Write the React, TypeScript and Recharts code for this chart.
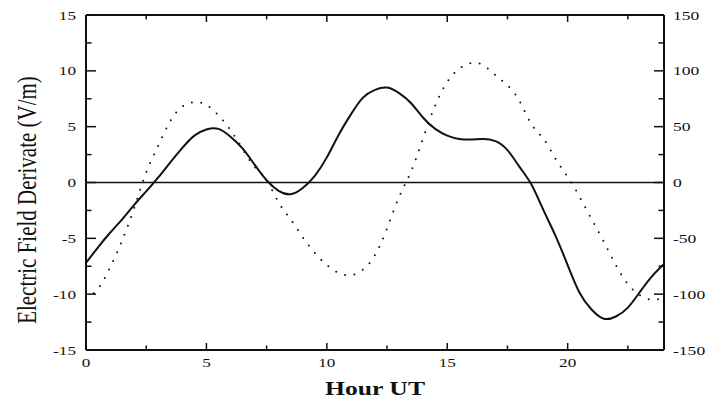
import React from 'react';
import { LineChart, Line, XAxis, YAxis, ReferenceLine } from 'recharts';

// hours (UT), half-hour steps
const hours = [
  0, 0.5, 1, 1.5, 2, 2.5, 3, 3.5, 4, 4.5, 5, 5.5, 6, 6.5, 7, 7.5, 8, 8.5, 9, 9.5, 10, 10.5, 11, 11.5,
  12, 12.5, 13, 13.5, 14, 14.5, 15, 15.5, 16, 16.5, 17, 17.5, 18, 18.5, 19, 19.5, 20, 20.5, 21, 21.5,
  22, 22.5, 23, 23.5, 24,
];

// solid curve, left axis (V/m)
const fieldDerivate = [
  -7.2, -5.8, -4.5, -3.3, -2.0, -0.8, 0.45, 1.8, 3.1, 4.2, 4.75, 4.8, 4.1, 3.05, 1.6, 0.2, -0.75, -1.05, -0.5, 0.6,
  2.25, 4.3, 6.1, 7.6, 8.3, 8.5, 8.0, 7.1, 5.8, 4.8, 4.2, 3.9, 3.85, 3.9, 3.7, 2.9, 1.4, -0.2, -2.5, -4.8,
  -7.4, -9.9, -11.4, -12.2, -12.0, -11.2, -9.8, -8.4, -7.3,
];

// dotted curve, right axis
const dottedSeries = [
  -104, -95, -76, -52, -23, 9, 33, 55, 68, 72, 69.5, 60, 47, 30, 14, 2, -18, -33, -49, -63,
  -74, -81, -83, -78, -65, -41, -13, 10, 40, 69, 90, 102, 107, 105, 96, 87, 73, 52, 39, 21,
  5, -13, -33, -53, -74, -91, -101, -105, -103,
];

const xTicks = [0, 2.5, 5, 7.5, 10, 12.5, 15, 17.5, 20, 22.5];
const leftTicks = [-15, -12.5, -10, -7.5, -5, -2.5, 0, 2.5, 5, 7.5, 10, 12.5, 15];
const rightTicks = [-150, -125, -100, -75, -50, -25, 0, 25, 50, 75, 100, 125, 150];

const data = hours.map((h, i) => ({ hour: h, field: fieldDerivate[i], dotted: dottedSeries[i] }));

const FONT = '"Liberation Serif", "Times New Roman", serif';
const INK = '#111';

// ticks point inward, labels only on the major ones
function BottomTick({ x, y, payload }: any) {
  const major = payload.value % 5 === 0;
  return (
    <g>
      <line x1={x} y1={y} x2={x} y2={y - (major ? 7 : 4.5)} stroke={INK} strokeWidth={1.5} />
      {major && (
        <text transform={`translate(${x},${y + 17}) scale(1.32,1)`} textAnchor="middle" fontSize={13} fontFamily={FONT} fill={INK}>
          {payload.value}
        </text>
      )}
    </g>
  );
}

function TopTick({ x, y, payload }: any) {
  const major = payload.value % 5 === 0;
  return <line x1={x} y1={y} x2={x} y2={y + (major ? 7 : 4.5)} stroke={INK} strokeWidth={1.5} />;
}

function LeftTick({ x, y, payload }: any) {
  const major = payload.value % 5 === 0;
  return (
    <g>
      <line x1={x} y1={y} x2={x + (major ? 10 : 5.5)} y2={y} stroke={INK} strokeWidth={1.5} />
      {major && (
        <text transform={`translate(${x - 10},${y}) scale(1.32,1)`} textAnchor="end" dy="0.35em" fontSize={13} fontFamily={FONT} fill={INK}>
          {payload.value}
        </text>
      )}
    </g>
  );
}

function RightTick({ x, y, payload }: any) {
  const major = payload.value % 50 === 0;
  return (
    <g>
      <line x1={x} y1={y} x2={x - (major ? 10 : 5.5)} y2={y} stroke={INK} strokeWidth={1.5} />
      {major && (
        <text transform={`translate(${x + 9},${y}) scale(1.35,1)`} textAnchor="start" dy="0.35em" fontSize={13} fontFamily={FONT} fill={INK}>
          {payload.value}
        </text>
      )}
    </g>
  );
}

export default function App() {
  return (
    <div style={{ position: 'absolute', left: 0, top: 0, background: '#fff' }}>
      <LineChart width={712} height={401} data={data} margin={{ top: 14, right: 0, bottom: 0, left: 0 }}>
        <XAxis
          xAxisId="bottom"
          dataKey="hour"
          type="number"
          domain={[0, 24]}
          ticks={xTicks}
          interval={0}
          height={51}
          tickSize={0}
          tickMargin={0}
          tickLine={false}
          axisLine={{ stroke: INK, strokeWidth: 2 }}
          tick={(p: any) => <BottomTick {...p} />}
          label={{
            content: ({ viewBox }: any) => (
              <text
                transform={`translate(${viewBox.x + viewBox.width / 2},${viewBox.y + 45}) scale(1.35,1)`}
                textAnchor="middle"
                fontSize={19}
                fontWeight="bold"
                fontFamily={FONT}
                fill={INK}
              >
                Hour UT
              </text>
            ),
          }}
        />
        <XAxis
          xAxisId="top"
          dataKey="hour"
          orientation="top"
          type="number"
          domain={[0, 24]}
          ticks={xTicks}
          interval={0}
          height={1}
          tickSize={0}
          tickMargin={0}
          tickLine={false}
          axisLine={{ stroke: INK, strokeWidth: 2 }}
          tick={(p: any) => <TopTick {...p} />}
        />
        <YAxis
          yAxisId="left"
          type="number"
          domain={[-15, 15]}
          ticks={leftTicks}
          interval={0}
          width={86}
          tickSize={0}
          tickMargin={0}
          tickLine={false}
          axisLine={{ stroke: INK, strokeWidth: 2 }}
          tick={(p: any) => <LeftTick {...p} />}
          label={{
            content: () => (
              <text
                transform="translate(26,200) scale(1.3,1) rotate(-90)"
                textAnchor="middle"
                dominantBaseline="central"
                fontSize={21}
                fontFamily={FONT}
                fill={INK}
              >
                Electric Field Derivate (V/m)
              </text>
            ),
          }}
        />
        <YAxis
          yAxisId="right"
          orientation="right"
          type="number"
          domain={[-150, 150]}
          ticks={rightTicks}
          interval={0}
          width={48}
          tickSize={0}
          tickMargin={0}
          tickLine={false}
          axisLine={{ stroke: INK, strokeWidth: 2 }}
          tick={(p: any) => <RightTick {...p} />}
        />
        <ReferenceLine xAxisId="bottom" yAxisId="left" y={0} stroke={INK} strokeWidth={1.5} />
        <Line
          xAxisId="bottom"
          yAxisId="right"
          type="natural"
          dataKey="dotted"
          stroke={INK}
          strokeWidth={2}
          strokeDasharray="0 9.5"
          strokeLinecap="round"
          dot={false}
          isAnimationActive={false}
        />
        <Line
          xAxisId="bottom"
          yAxisId="left"
          type="natural"
          dataKey="field"
          stroke={INK}
          strokeWidth={2}
          dot={false}
          isAnimationActive={false}
        />
      </LineChart>
    </div>
  );
}
